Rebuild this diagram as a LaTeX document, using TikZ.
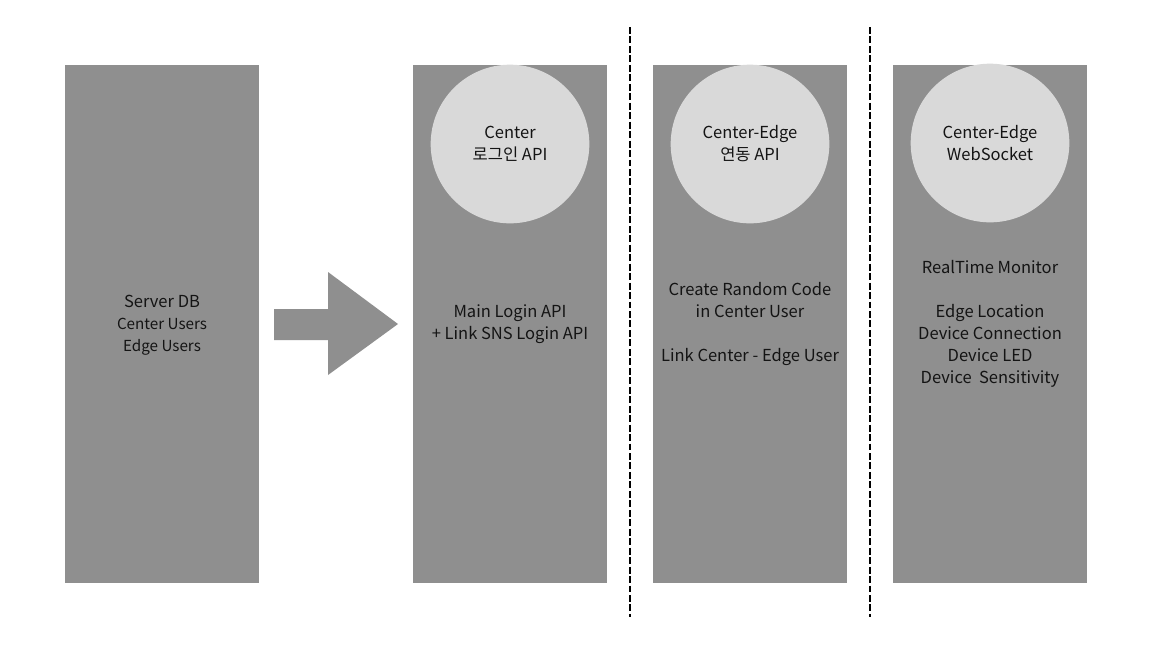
\documentclass[tikz,border=0pt]{standalone}
\usepackage{fontspec}
\setmainfont{Noto Sans CJK KR}
\usetikzlibrary{positioning}
\definecolor{panelgray}{HTML}{8F8F8F}
\definecolor{bubblegray}{HTML}{D9D9D9}
\definecolor{inkdark}{HTML}{141414}
\begin{document}
\begin{tikzpicture}[x=0.75pt,y=-0.75pt,
  panel/.style={fill=panelgray},
  bubble/.style={circle,fill=bubblegray,minimum size=119pt,inner sep=0pt,align=center,text=inkdark,font=\fontsize{12.4}{16.5}\selectfont},
  label/.style={align=center,text=inkdark,inner sep=0pt,font=\fontsize{12.4}{16.5}\selectfont},
  divider/.style={line width=1.7pt,dash pattern=on 5.2pt off 1.9pt}]
\useasboundingbox (0,0) rectangle (1152,647);
\fill[white] (0,0) rectangle (1152,647);
\fill[panel] (65,65) rectangle (259,583);
\fill[panel] (413,65) rectangle (607,583);
\fill[panel] (653,65) rectangle (847,583);
\fill[panel] (893,65) rectangle (1087,583);
\fill[panelgray] (274,309) -- (328,309) -- (328,272) -- (398,324) -- (328,375) -- (328,340) -- (274,340) -- cycle;
\draw[divider] (630,27) -- (630,617);
\draw[divider] (870,27) -- (870,617);
\node[bubble] (login) at (510,144) {Center\\로그인 API};
\node[bubble] (linkapi) at (750,144) {Center-Edge\\연동 API};
\node[bubble] (socket) at (990,143) {Center-Edge\\WebSocket};
\node[label] (serverdb) at (162,325) {Server DB\\{\fontsize{11.4}{16}\selectfont Center Users}\\{\fontsize{11.4}{16}\selectfont Edge Users}};
\node[label] (mainlogin) at (510,324) {Main Login API\\+ Link SNS Login API};
\node[label] (randcode) at (750,324) {Create Random Code\\in Center User\\[16.5pt]Link Center - Edge User};
\node[label] (monitor) at (990,324) {RealTime Monitor\\[16.5pt]Edge Location\\Device Connection\\Device LED\\Device\ \ Sensitivity};
\end{tikzpicture}
\end{document}
